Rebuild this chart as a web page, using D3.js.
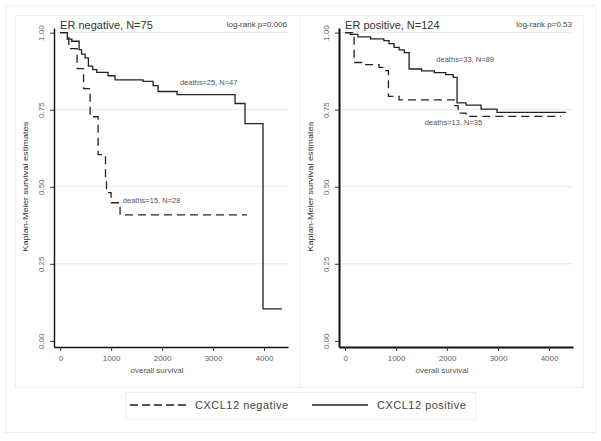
<!DOCTYPE html>
<html>
<head>
<meta charset="utf-8">
<script src="https://cdn.jsdelivr.net/npm/d3@7"></script>
<style>
  body { margin: 0; background: #fff; }
  text { font-family: "Liberation Sans", Arial, sans-serif; }
</style>
</head>
<body>
<svg id="chart" width="601" height="441"></svg>
<script>
// survival curves, [days, KM estimate]
const erNegPos = [[0,1],[140,0.979],[230,0.972],[373,0.945],[420,0.93],[490,0.918],[555,0.891],[640,0.88],[719,0.871],[941,0.86],[1078,0.847],[1627,0.842],[1824,0.828],[1922,0.809],[2294,0.799],[3431,0.770],[3627,0.705],[3980,0.104],[4353,0.104]];
const erNegNeg = [[0,1],[170,0.948],[333,0.883],[460,0.818],[588,0.727],[745,0.604],[890,0.516],[910,0.481],[1000,0.448],[1176,0.409],[3667,0.409]];
const erPosPos = [[0,1],[100,0.994],[250,0.986],[500,0.98],[760,0.974],[860,0.964],[960,0.952],[1060,0.944],[1160,0.935],[1255,0.882],[1500,0.876],[1750,0.870],[1975,0.864],[2120,0.855],[2196,0.772],[2373,0.765],[2667,0.752],[2980,0.741],[4333,0.741]];
const erPosNeg = [[0,1],[176,0.903],[373,0.896],[667,0.887],[765,0.877],[850,0.793],[1059,0.782],[2137,0.763],[2216,0.739],[2373,0.728],[4235,0.728]];

const panelTitles = ["ER negative, N=75", "ER positive, N=124"];
const pValues = ["log-rank p=0.006", "log-rank p=0.53"];
const deathLabels = [["deaths=25, N=47", "deaths=15, N=28"], ["deaths=33, N=89", "deaths=13, N=35"]];
// where the death labels sit: [days, survival]
const labelPos = [[[2350, 0.83], [1230, 0.447]], [[1790, 0.905], [1560, 0.70]]];
const xTicks = [0, 1000, 2000, 3000, 4000];
const yTicks = [0, 0.25, 0.5, 0.75, 1];
const legendLabels = ["CXCL12 negative", "CXCL12 positive"];

const svg = d3.select("#chart");

// frames
svg.append("rect").attr("x", 5.5).attr("y", 5.5).attr("width", 590).attr("height", 427)
  .attr("fill", "#fff").attr("stroke", "#eef1f1");
svg.append("rect").attr("x", 15.5).attr("y", 15.5).attr("width", 284).attr("height", 372)
  .attr("fill", "#fff").attr("stroke", "#eef1f1");
svg.append("rect").attr("x", 299.5).attr("y", 15.5).attr("width", 284).attr("height", 372)
  .attr("fill", "#fff").attr("stroke", "#eef1f1");

const y = d3.scaleLinear().domain([-0.02, 1.015]).range([347, 28]);
const line = (x) => d3.line().x(d => x(d[0])).y(d => y(d[1])).curve(d3.curveStepAfter);

const panels = [
  { left: 54, right: 288, curves: [erNegNeg, erNegPos], axisW: 1.4 },
  { left: 339, right: 573, curves: [erPosNeg, erPosPos], axisW: 2 }
];

panels.forEach((p, i) => {
  const x = d3.scaleLinear().domain([-120, 4470]).range([p.left, p.right]);
  const g = svg.append("g");

  // grid
  g.selectAll(".grid").data(yTicks.filter(t => t > 0)).enter().append("line")
    .attr("x1", p.left).attr("x2", p.right)
    .attr("y1", d => y(d)).attr("y2", d => y(d))
    .attr("stroke", "#e2ebed").attr("stroke-width", 1);

  // x axis
  const xa = g.append("g").attr("transform", "translate(0,347)")
    .call(d3.axisBottom(x).tickValues(xTicks).tickSize(4).tickSizeOuter(0).tickPadding(4).tickFormat(d3.format("d")));
  xa.select(".domain").attr("stroke", "#111").attr("stroke-width", p.axisW);
  xa.selectAll(".tick line").attr("stroke", "#333");
  xa.selectAll("text").attr("font-size", 8).attr("fill", "#666")
    .attr("font-family", "'Liberation Sans', Arial, sans-serif");

  // y axis
  const ya = g.append("g").attr("transform", `translate(${p.left},0)`)
    .call(d3.axisLeft(y).tickValues(yTicks).tickSize(4).tickSizeOuter(0).tickFormat(d3.format(".2f")));
  ya.select(".domain").attr("stroke", "#111").attr("stroke-width", p.axisW);
  ya.selectAll(".tick line").attr("stroke", "#333");
  ya.selectAll("text").attr("x", null).attr("dy", null)
    .attr("transform", "translate(-10,0) rotate(-90)")
    .attr("text-anchor", "middle").attr("font-size", 8).attr("fill", "#666")
    .attr("font-family", "'Liberation Sans', Arial, sans-serif");

  // axis titles
  g.append("text").attr("x", x(1900)).attr("y", 373).attr("text-anchor", "middle")
    .attr("font-size", 8).attr("fill", "#555").text("overall survival");
  g.append("text").attr("transform", `translate(${p.left - 26},${y(0.5)}) rotate(-90)`)
    .attr("text-anchor", "middle").attr("font-size", 8).attr("fill", "#333")
    .attr("textLength", 130).attr("lengthAdjust", "spacingAndGlyphs")
    .text("Kaplan-Meier survival estimates");

  // titles
  g.append("text").attr("x", x(0)).attr("y", 29).attr("font-size", 11).attr("fill", "#333")
    .text(panelTitles[i]);
  g.append("text").attr("x", p.right - 1).attr("y", 27).attr("text-anchor", "end")
    .attr("font-size", 8).attr("fill", "#444").text(pValues[i]);

  // curves: dashed = CXCL12 negative, solid = CXCL12 positive
  g.append("path").datum(p.curves[0]).attr("d", line(x)).attr("fill", "none")
    .attr("stroke", "#222").attr("stroke-width", 1.3).attr("stroke-dasharray", "8,5");
  g.append("path").datum(p.curves[1]).attr("d", line(x)).attr("fill", "none")
    .attr("stroke", "#222").attr("stroke-width", 1.3);

  // death labels
  deathLabels[i].forEach((t, j) => {
    g.append("text").attr("x", x(labelPos[i][j][0])).attr("y", y(labelPos[i][j][1]))
      .attr("font-size", 7.5).attr("fill", "#555").text(t);
  });
});

// legend
svg.append("rect").attr("x", 125.5).attr("y", 392.5).attr("width", 350).attr("height", 27)
  .attr("fill", "#fff").attr("stroke", "#eef1f1");
const legend = svg.append("g");
const legX = [[130, 187, 195], [312, 368, 377]];
legendLabels.forEach((t, i) => {
  legend.append("line").attr("x1", legX[i][0]).attr("x2", legX[i][1]).attr("y1", 405).attr("y2", 405)
    .attr("stroke", "#222").attr("stroke-width", 1.3)
    .attr("stroke-dasharray", i === 0 ? "8,4" : null);
  legend.append("text").attr("x", legX[i][2]).attr("y", 409).attr("font-size", 11)
    .attr("letter-spacing", 0.5).attr("fill", "#444").text(t);
});
</script>
</body>
</html>
